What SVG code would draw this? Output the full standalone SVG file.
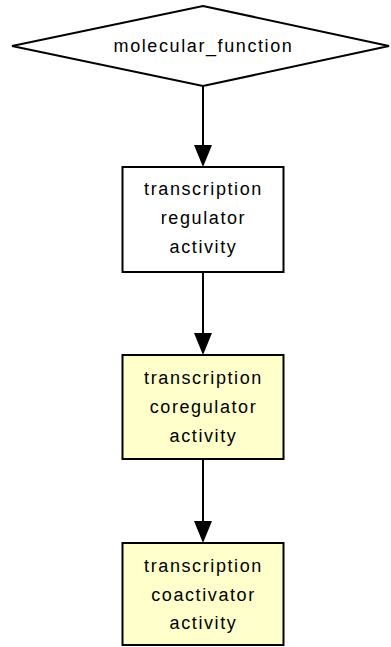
<svg xmlns="http://www.w3.org/2000/svg" width="391" height="647" viewBox="0 0 391 647">
<style>
.n{stroke:#000;stroke-width:2}
.w{fill:#fff}
.y{fill:#ffffcc}
text{font-family:"Liberation Sans",Arial,sans-serif;font-size:18px;letter-spacing:1.6px;fill:#000;text-anchor:middle}
.e{stroke:#000;stroke-width:2;fill:none}
.h{fill:#000}
</style>
<rect width="391" height="647" fill="#fff"/>
<g id="connectors">
<line class="e" x1="203" y1="86" x2="203" y2="147"/>
<polygon class="h" points="194,145 212,145 203,167"/>
<line class="e" x1="203" y1="272" x2="203" y2="335"/>
<polygon class="h" points="194,333 212,333 203,355"/>
<line class="e" x1="203" y1="459" x2="203" y2="523"/>
<polygon class="h" points="194,521 212,521 203,543"/>
</g>
<g id="molecular_function">
<polygon class="n w" points="203,6 389,46 203,86 12,46"/>
<text x="203.5" y="52">molecular_function</text>
</g>
<g id="transcription_regulator_activity">
<rect class="n w" x="122.5" y="167" width="161" height="105"/>
<text x="203.5" y="195">transcription</text>
<text x="203.5" y="224">regulator</text>
<text x="203.5" y="253">activity</text>
</g>
<g id="transcription_coregulator_activity">
<rect class="n y" x="122.5" y="355" width="161" height="104"/>
<text x="203.5" y="384">transcription</text>
<text x="203.5" y="413">coregulator</text>
<text x="203.5" y="442">activity</text>
</g>
<g id="transcription_coactivator_activity">
<rect class="n y" x="122.5" y="543" width="161" height="102"/>
<text x="203.5" y="572">transcription</text>
<text x="203.5" y="601">coactivator</text>
<text x="203.5" y="629">activity</text>
</g>
</svg>
